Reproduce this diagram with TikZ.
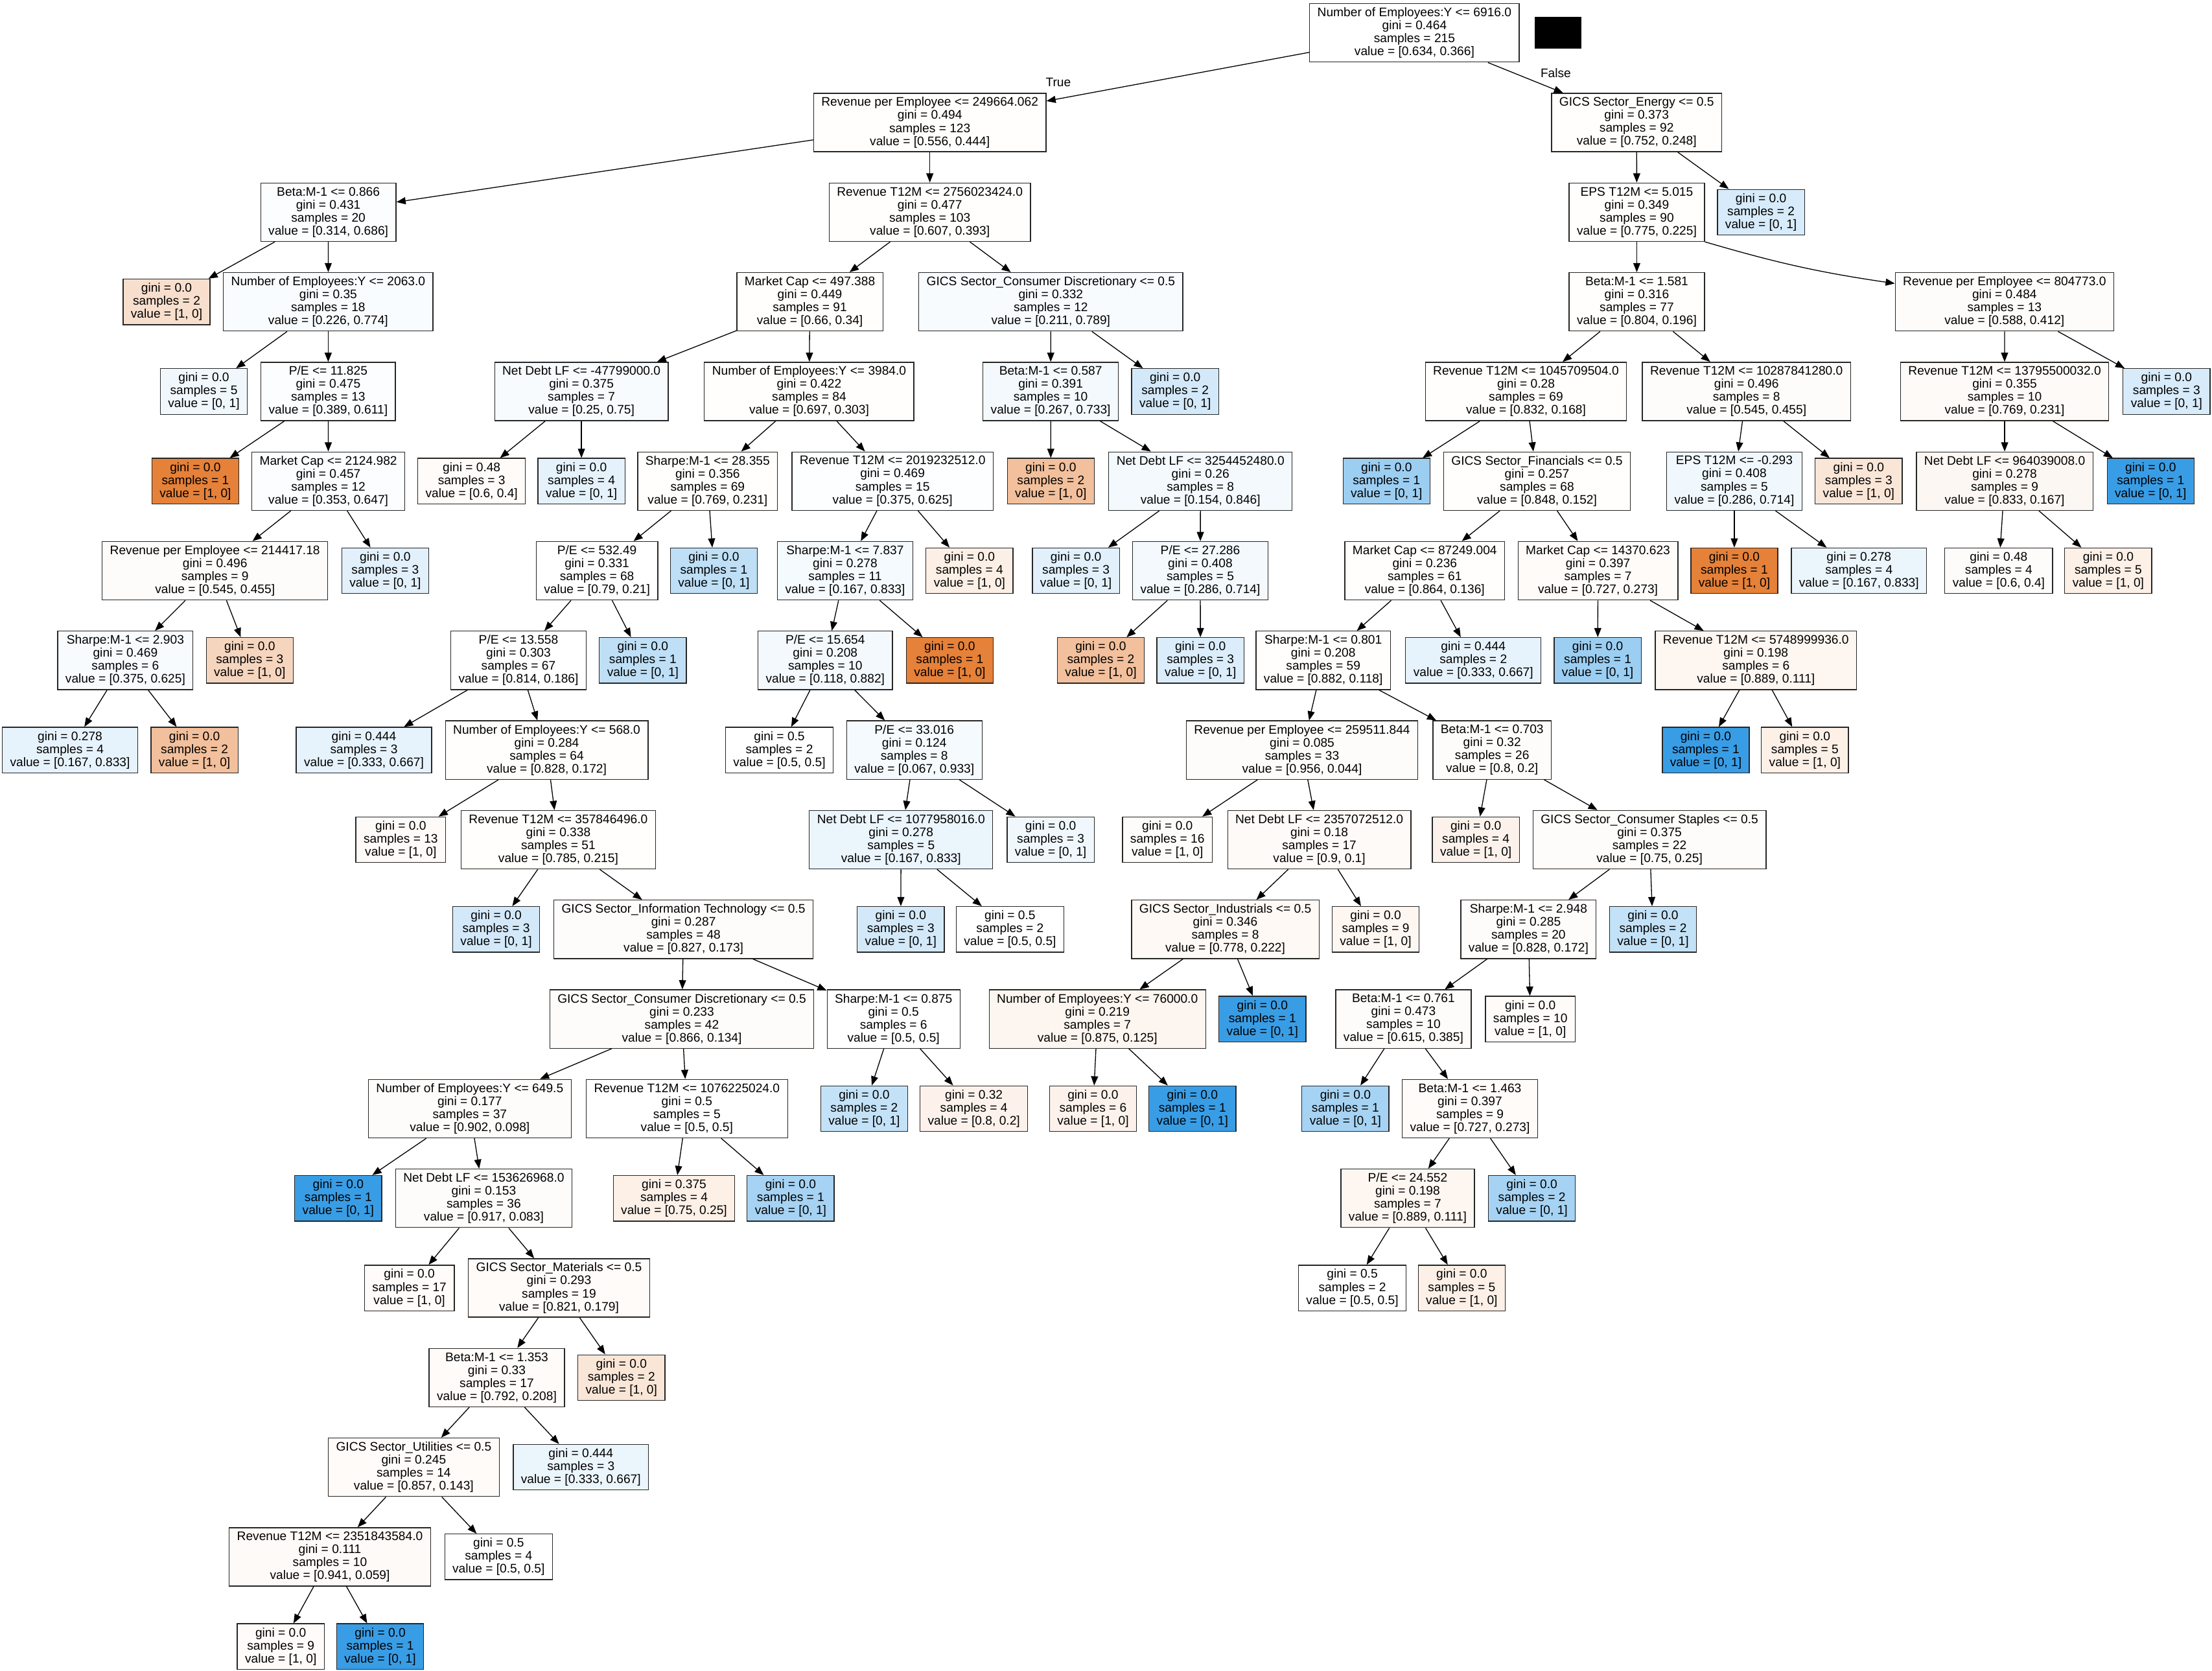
\documentclass[tikz,border=0pt]{standalone}
\usepackage{fontspec}
\usetikzlibrary{arrows.meta}
\newfontfamily\gvf{Liberation Sans}
\newcommand{\gvfont}{\gvf\fontsize{8.8}{9.2}\selectfont}
\definecolor{co}{HTML}{E58139}
\definecolor{cb}{HTML}{399DE5}
\tikzset{
  dec/.style={draw=black!85, line width=0.6pt, inner xsep=5.5pt, inner ysep=0pt,
              minimum height=41.4pt, align=center, font=\gvfont},
  leafbox/.style={dec, minimum height=32.3pt},
  edge/.style={line width=0.6pt, -{Triangle[length=6.5pt,width=5pt]}},
  lbl/.style={font=\gvfont, inner sep=0pt}
}
\newcommand{\DNode}[8]{\node[dec, fill=#8] (#1) at (#2,#3) {#4\\gini = #5\\samples = #6\\value = [#7]};}
\newcommand{\LNode}[7]{\node[leafbox, fill=#7] (#1) at (#2,#3) {gini = #4\\samples = #5\\value = [#6]};}
\begin{document}
\begin{tikzpicture}[x=1pt,y=-1pt]
\path[fill=white, use as bounding box] (0,0) rectangle (1567,1183.2);
% row 0
\DNode{root}{1002}{23.3}{Number of Employees:Y <= 6916.0}{0.464}{215}{0.634, 0.366}{white}
\node[fill=black, minimum width=33.2pt, minimum height=22.4pt, inner sep=0pt] (blk) at (1103.6,23.1) {};
% row 1
\DNode{A}{658.7}{86.8}{Revenue per Employee <= 249664.062}{0.494}{123}{0.556, 0.444}{co!1}
\DNode{B}{1159.4}{86.8}{GICS Sector\_Energy <= 0.5}{0.373}{92}{0.752, 0.248}{co!1}
% row 2
\DNode{A1}{232.6}{150.3}{Beta:M-1 <= 0.866}{0.431}{20}{0.314, 0.686}{cb!2}
\DNode{A2}{658.7}{150.3}{Revenue T12M <= 2756023424.0}{0.477}{103}{0.607, 0.393}{co!1}
\DNode{B1}{1159.5}{150.3}{EPS T12M <= 5.015}{0.349}{90}{0.775, 0.225}{co!1}
\LNode{B2}{1247.5}{150.3}{0.0}{2}{0, 1}{cb!20}
% row 3
\LNode{A1a}{118}{213.8}{0.0}{2}{1, 0}{co!25}
\DNode{A1b}{232.5}{213.8}{Number of Employees:Y <= 2063.0}{0.35}{18}{0.226, 0.774}{cb!3}
\DNode{A2a}{573.7}{213.8}{Market Cap <= 497.388}{0.449}{91}{0.66, 0.34}{co!1}
\DNode{A2b}{744.4}{213.8}{GICS Sector\_Consumer Discretionary <= 0.5}{0.332}{12}{0.211, 0.789}{cb!4}
\DNode{B1a}{1159.5}{213.8}{Beta:M-1 <= 1.581}{0.316}{77}{0.804, 0.196}{co!1}
\DNode{B1b}{1420}{213.8}{Revenue per Employee <= 804773.0}{0.484}{13}{0.588, 0.412}{co!2}
% row 4
\LNode{n1}{144.4}{277.3}{0.0}{5}{0, 1}{cb!7}
\DNode{n2}{232.5}{277.3}{P/E <= 11.825}{0.475}{13}{0.389, 0.611}{cb!2}
\DNode{n3}{411.9}{277.3}{Net Debt LF <= -47799000.0}{0.375}{7}{0.25, 0.75}{cb!4}
\DNode{n4}{573.2}{277.3}{Number of Employees:Y <= 3984.0}{0.422}{84}{0.697, 0.303}{co!1}
\DNode{n5}{744.3}{277.3}{Beta:M-1 <= 0.587}{0.391}{10}{0.267, 0.733}{cb!6}
\LNode{n6}{832.5}{277.3}{0.0}{2}{0, 1}{cb!22}
\DNode{n7}{1081}{277.3}{Revenue T12M <= 1045709504.0}{0.28}{69}{0.832, 0.168}{co!1}
\DNode{n8}{1237.2}{277.3}{Revenue T12M <= 10287841280.0}{0.496}{8}{0.545, 0.455}{co!2}
\DNode{n9}{1420.1}{277.3}{Revenue T12M <= 13795500032.0}{0.355}{10}{0.769, 0.231}{co!4}
\LNode{n10}{1534.8}{277.3}{0.0}{3}{0, 1}{cb!20}
% row 5
\LNode{m1}{138.4}{340.8}{0.0}{1}{1, 0}{co}
\DNode{m2}{232.6}{340.8}{Market Cap <= 2124.982}{0.457}{12}{0.353, 0.647}{cb!2}
\LNode{m3}{334.1}{340.8}{0.48}{3}{0.6, 0.4}{co!3}
\LNode{m4}{411.9}{340.8}{0.0}{4}{0, 1}{cb!13}
\DNode{m5}{501.3}{340.8}{Sharpe:M-1 <= 28.355}{0.356}{69}{0.769, 0.231}{co!1}
\DNode{m6}{632.3}{340.8}{Revenue T12M <= 2019232512.0}{0.469}{15}{0.375, 0.625}{cb!1}
\LNode{m7}{744.4}{340.8}{0.0}{2}{1, 0}{co!50}
\DNode{m8}{850.4}{340.8}{Net Debt LF <= 3254452480.0}{0.26}{8}{0.154, 0.846}{cb!6}
\LNode{m9}{982.2}{340.8}{0.0}{1}{0, 1}{cb!50}
\DNode{m10}{1088.8}{340.8}{GICS Sector\_Financials <= 0.5}{0.257}{68}{0.848, 0.152}{co!1}
\DNode{m11}{1228.6}{340.8}{EPS T12M <= -0.293}{0.408}{5}{0.286, 0.714}{cb!7}
\LNode{m12}{1316.7}{340.8}{0.0}{3}{1, 0}{co!20}
\DNode{m13}{1420.1}{340.8}{Net Debt LF <= 964039008.0}{0.278}{9}{0.833, 0.167}{co!6}
\LNode{m14}{1523.5}{340.8}{0.0}{1}{0, 1}{cb}
% row 6
\DNode{p1}{152.3}{404.3}{Revenue per Employee <= 214417.18}{0.496}{9}{0.545, 0.455}{co!2}
\LNode{p2}{272.9}{404.3}{0.0}{3}{0, 1}{cb!15}
\DNode{p3}{422.9}{404.3}{P/E <= 532.49}{0.331}{68}{0.79, 0.21}{white}
\LNode{p4}{505.7}{404.3}{0.0}{1}{0, 1}{cb!33}
\DNode{p5}{598.7}{404.3}{Sharpe:M-1 <= 7.837}{0.278}{11}{0.167, 0.833}{cb!5}
\LNode{p6}{686.8}{404.3}{0.0}{4}{1, 0}{co!13}
\LNode{p7}{762.2}{404.3}{0.0}{3}{0, 1}{cb!15}
\DNode{p8}{850.3}{404.3}{P/E <= 27.286}{0.408}{5}{0.286, 0.714}{cb!6}
\DNode{p9}{1009.3}{404.3}{Market Cap <= 87249.004}{0.236}{61}{0.864, 0.136}{co!1}
\DNode{p10}{1132}{404.3}{Market Cap <= 14370.623}{0.397}{7}{0.727, 0.273}{co!3}
\LNode{p11}{1228.6}{404.3}{0.0}{1}{1, 0}{co}
\LNode{p12}{1316.9}{404.3}{0.278}{4}{0.167, 0.833}{cb!10}
\LNode{p13}{1415.9}{404.3}{0.48}{4}{0.6, 0.4}{co!2}
\LNode{p14}{1493.5}{404.3}{0.0}{5}{1, 0}{co!12}
% row 7
\DNode{q1}{88.8}{467.8}{Sharpe:M-1 <= 2.903}{0.469}{6}{0.375, 0.625}{cb!4}
\LNode{q2}{176.9}{467.8}{0.0}{3}{1, 0}{co!33}
\DNode{q3}{367.3}{467.8}{P/E <= 13.558}{0.303}{67}{0.814, 0.186}{white}
\LNode{q4}{455.4}{467.8}{0.0}{1}{0, 1}{cb!33}
\DNode{q5}{584.6}{467.8}{P/E <= 15.654}{0.208}{10}{0.118, 0.882}{cb!6}
\LNode{q6}{672.8}{467.8}{0.0}{1}{1, 0}{co}
\LNode{q7}{779.8}{467.8}{0.0}{2}{1, 0}{co!50}
\LNode{q8}{850.4}{467.8}{0.0}{3}{0, 1}{cb!18}
\DNode{q9}{937.4}{467.8}{Sharpe:M-1 <= 0.801}{0.208}{59}{0.882, 0.118}{co!1}
\LNode{q10}{1043.7}{467.8}{0.444}{2}{0.333, 0.667}{cb!12}
\LNode{q11}{1131.8}{467.8}{0.0}{1}{0, 1}{cb!50}
\DNode{q12}{1243.9}{467.8}{Revenue T12M <= 5748999936.0}{0.198}{6}{0.889, 0.111}{co!7}
% row 8
\LNode{r1}{49.6}{531.3}{0.278}{4}{0.167, 0.833}{cb!12}
\LNode{r2}{137.8}{531.3}{0.0}{2}{1, 0}{co!50}
\LNode{r3}{257.8}{531.3}{0.444}{3}{0.333, 0.667}{cb!12}
\DNode{r4}{387.3}{531.3}{Number of Employees:Y <= 568.0}{0.284}{64}{0.828, 0.172}{co!1}
\LNode{r5}{552.1}{531.3}{0.5}{2}{0.5, 0.5}{white}
\DNode{r6}{647.7}{531.3}{P/E <= 33.016}{0.124}{8}{0.067, 0.933}{cb!5}
\DNode{r7}{922.4}{531.3}{Revenue per Employee <= 259511.844}{0.085}{33}{0.956, 0.044}{co!2}
\DNode{r8}{1057}{531.3}{Beta:M-1 <= 0.703}{0.32}{26}{0.8, 0.2}{co!2}
\LNode{r9}{1208.4}{531.3}{0.0}{1}{0, 1}{cb}
\LNode{r10}{1278.6}{531.3}{0.0}{5}{1, 0}{co!12}
% row 9
\LNode{s1}{283.9}{594.8}{0.0}{13}{1, 0}{co!4}
\DNode{s2}{395.5}{594.8}{Revenue T12M <= 357846496.0}{0.338}{51}{0.785, 0.215}{co!1}
\DNode{s3}{638.3}{594.8}{Net Debt LF <= 1077958016.0}{0.278}{5}{0.167, 0.833}{cb!10}
\LNode{s4}{744.3}{594.8}{0.0}{3}{0, 1}{cb!7}
\LNode{s5}{827}{594.8}{0.0}{16}{1, 0}{co!2}
\DNode{s6}{934.6}{594.8}{Net Debt LF <= 2357072512.0}{0.18}{17}{0.9, 0.1}{co!4}
\LNode{s7}{1045.5}{594.8}{0.0}{4}{1, 0}{co!10}
\DNode{s8}{1168.5}{594.8}{GICS Sector\_Consumer Staples <= 0.5}{0.375}{22}{0.75, 0.25}{co!2}
% row 10
\LNode{t1}{351.5}{658.3}{0.0}{3}{0, 1}{cb!22}
\DNode{t2}{484.2}{658.3}{GICS Sector\_Information Technology <= 0.5}{0.287}{48}{0.827, 0.173}{co!2}
\LNode{t3}{638.1}{658.3}{0.0}{3}{0, 1}{cb!22}
\LNode{t4}{715.5}{658.3}{0.5}{2}{0.5, 0.5}{white}
\DNode{t5}{868}{658.3}{GICS Sector\_Industrials <= 0.5}{0.346}{8}{0.778, 0.222}{co!5}
\LNode{t6}{974.5}{658.3}{0.0}{9}{1, 0}{co!7}
\DNode{t7}{1082.8}{658.3}{Sharpe:M-1 <= 2.948}{0.285}{20}{0.828, 0.172}{co!2}
\LNode{t8}{1171}{658.3}{0.0}{2}{0, 1}{cb!30}
% row 11
\DNode{u1}{483}{721.8}{GICS Sector\_Consumer Discretionary <= 0.5}{0.233}{42}{0.866, 0.134}{co!2}
\DNode{u2}{633}{721.8}{Sharpe:M-1 <= 0.875}{0.5}{6}{0.5, 0.5}{white}
\DNode{u3}{777.4}{721.8}{Number of Employees:Y <= 76000.0}{0.219}{7}{0.875, 0.125}{co!8}
\LNode{u4}{894.3}{721.8}{0.0}{1}{0, 1}{cb}
\DNode{u5}{994.2}{721.8}{Beta:M-1 <= 0.761}{0.473}{10}{0.615, 0.385}{co!2}
\LNode{u6}{1084.1}{721.8}{0.0}{10}{1, 0}{co!3}
% row 12
\DNode{v1}{332.8}{785.3}{Number of Employees:Y <= 649.5}{0.177}{37}{0.902, 0.098}{co!2}
\DNode{v2}{486.6}{785.3}{Revenue T12M <= 1076225024.0}{0.5}{5}{0.5, 0.5}{white}
\LNode{v3}{612.2}{785.3}{0.0}{2}{0, 1}{cb!30}
\LNode{v4}{689.9}{785.3}{0.32}{4}{0.8, 0.2}{co!10}
\LNode{v5}{774.3}{785.3}{0.0}{6}{1, 0}{co!10}
\LNode{v6}{844.7}{785.3}{0.0}{1}{0, 1}{cb}
\LNode{v7}{953.1}{785.3}{0.0}{1}{0, 1}{cb!45}
\DNode{v8}{1041.3}{785.3}{Beta:M-1 <= 1.463}{0.397}{9}{0.727, 0.273}{co!3}
% row 13
\LNode{w1}{239.6}{848.8}{0.0}{1}{0, 1}{cb}
\DNode{w2}{342.7}{848.8}{Net Debt LF <= 153626968.0}{0.153}{36}{0.917, 0.083}{co!2}
\LNode{w3}{477.5}{848.8}{0.375}{4}{0.75, 0.25}{co!12}
\LNode{w4}{560.1}{848.8}{0.0}{1}{0, 1}{cb!45}
\DNode{w5}{997.2}{848.8}{P/E <= 24.552}{0.198}{7}{0.889, 0.111}{co!7}
\LNode{w6}{1085.2}{848.8}{0.0}{2}{0, 1}{cb!45}
% row 14
\LNode{x1}{290}{912.3}{0.0}{17}{1, 0}{co!3}
\DNode{x2}{396}{912.3}{GICS Sector\_Materials <= 0.5}{0.293}{19}{0.821, 0.179}{co!3}
\LNode{x3}{958}{912.3}{0.5}{2}{0.5, 0.5}{white}
\LNode{x4}{1035.5}{912.3}{0.0}{5}{1, 0}{co!12}
% row 15
\DNode{y1}{351.9}{975.8}{Beta:M-1 <= 1.353}{0.33}{17}{0.792, 0.208}{co!3}
\LNode{y2}{440.2}{975.8}{0.0}{2}{1, 0}{co!20}
% row 16
\DNode{z1}{293.1}{1039.3}{GICS Sector\_Utilities <= 0.5}{0.245}{14}{0.857, 0.143}{co!3}
\LNode{z2}{411.5}{1039.3}{0.444}{3}{0.333, 0.667}{cb!10}
% row 17
\DNode{aa1}{233.7}{1102.8}{Revenue T12M <= 2351843584.0}{0.111}{10}{0.941, 0.059}{co!4}
\LNode{aa2}{353.2}{1102.8}{0.5}{4}{0.5, 0.5}{white}
% row 18
\LNode{bb1}{198.9}{1166.3}{0.0}{9}{1, 0}{co!3}
\LNode{bb2}{269.3}{1166.3}{0.0}{1}{0, 1}{cb}
% labels
\node[lbl] (ltrue) at (749.7,58.2) {True};
\node[lbl] (lfalse) at (1102.1,51.5) {False};
% edges
\foreach \p/\c in {root/A, root/B, A/A1, A/A2, B/B1, B/B2,
  A1/A1a, A1/A1b, A2/A2a, A2/A2b, B1/B1a,
  A1b/n1, A1b/n2, A2a/n3, A2a/n4, A2b/n5, A2b/n6, B1a/n7, B1a/n8, B1b/n9, B1b/n10,
  n2/m1, n2/m2, n3/m3, n3/m4, n4/m5, n4/m6, n5/m7, n5/m8, n7/m9, n7/m10, n8/m11, n8/m12, n9/m13, n9/m14,
  m2/p1, m2/p2, m5/p3, m5/p4, m6/p5, m6/p6, m8/p7, m8/p8, m10/p9, m10/p10, m11/p11, m11/p12, m13/p13, m13/p14,
  p1/q1, p1/q2, p3/q3, p3/q4, p5/q5, p5/q6, p8/q7, p8/q8, p9/q9, p9/q10, p10/q11, p10/q12,
  q1/r1, q1/r2, q3/r3, q3/r4, q5/r5, q5/r6, q9/r7, q9/r8, q12/r9, q12/r10,
  r4/s1, r4/s2, r6/s3, r6/s4, r7/s5, r7/s6, r8/s7, r8/s8,
  s2/t1, s2/t2, s3/t3, s3/t4, s6/t5, s6/t6, s8/t7, s8/t8,
  t2/u1, t2/u2, t5/u3, t5/u4, t7/u5, t7/u6,
  u1/v1, u1/v2, u2/v3, u2/v4, u3/v5, u3/v6, u5/v7, u5/v8,
  v1/w1, v1/w2, v2/w3, v2/w4, v8/w5, v8/w6,
  w2/x1, w2/x2, w5/x3, w5/x4,
  x2/y1, x2/y2, y1/z1, y1/z2, z1/aa1, z1/aa2, aa1/bb1, aa1/bb2}
  {\draw[edge] (\p) -- (\c);}
\draw[edge] (B1.south east) to[bend right=4] ([yshift=-8pt]B1b.north west);
\end{tikzpicture}
\end{document}
